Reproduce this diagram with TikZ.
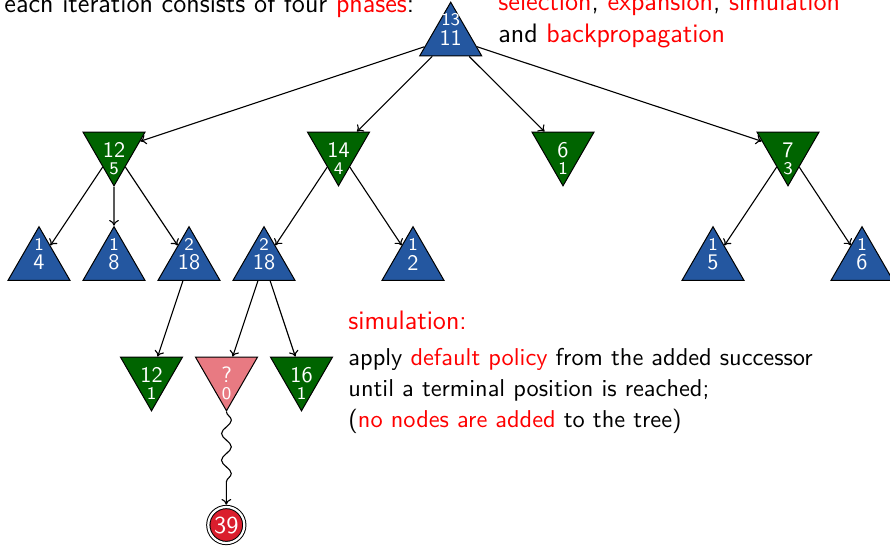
\documentclass[tikz,border=0pt]{standalone}
\usepackage{fontspec}
\usetikzlibrary{shapes.geometric,decorations.pathmorphing,arrows.meta}
\definecolor{tblue}{RGB}{36,87,160}
\definecolor{tgreen}{RGB}{0,100,0}
\definecolor{tpink}{RGB}{232,122,130}
\definecolor{tred}{RGB}{218,30,45}
\begin{document}
\begin{tikzpicture}[x=0.4494pt, y=-0.4494pt,
  tri/.style={regular polygon, regular polygon sides=3, minimum size=32.18pt, inner sep=0pt,
    draw=black, line width=0.45pt, text=white, font=\sffamily\fontsize{10}{12}\selectfont},
  upnode/.style={tri, fill=tblue},
  dnnode/.style={tri, shape border rotate=180, fill=tgreen},
  simnode/.style={tri, shape border rotate=180, fill=tpink},
  cnt/.style={text=white, inner sep=0pt, font=\sffamily\fontsize{8}{9.5}\selectfont},
  edge/.style={-{To[length=2.6pt,width=4.4pt]}, line width=0.5pt},
  body/.style={anchor=base west, inner sep=0pt, font=\sffamily\fontsize{10.95}{13.6}\selectfont},
  big/.style={anchor=base west, inner sep=0pt, font=\sffamily\fontsize{12}{14}\selectfont},
  term/.style={circle, draw=black, line width=0.45pt, double=white, double distance=1pt,
    fill=tred, minimum size=16.18pt, inner sep=0pt, text=white, font=\sffamily\fontsize{10.95}{13.6}\selectfont},
]
\useasboundingbox (0,0) rectangle (890,545);

% texts
\node[big] (t1) at (4,12.5) {each iteration consists of four \textcolor{red}{phases}:};
\node[big] (t2) at (498,10) {\textcolor{red}{selection}, \textcolor{red}{expansion}, \textcolor{red}{simulation}};
\node[big] (t3) at (498,42) {and \textcolor{red}{backpropagation}};
\node[big, text=red] (h) at (348,329) {simulation:};
\node[body] (l1) at (348,365) {apply \textcolor{red}{default policy} from the added successor};
\node[body] (l2) at (348,396) {until a terminal position is reached;};
\node[body] (l3) at (348,427) {(\textcolor{red}{no nodes are added} to the tree)};

% root
\node[upnode] (r) at (450.7,38) {11};
\node[cnt] (rc) at ([yshift=8.31pt]r.center) {13};

% level 1
\node[dnnode] (a) at (114,150) {12};
\node[cnt] (ac) at ([yshift=-8.31pt]a.center) {5};
\node[dnnode] (b) at (338.5,150) {14};
\node[cnt] (bc) at ([yshift=-8.31pt]b.center) {4};
\node[dnnode] (c) at (563,150) {6};
\node[cnt] (cc) at ([yshift=-8.31pt]c.center) {1};
\node[dnnode] (d) at (788,150) {7};
\node[cnt] (dc) at ([yshift=-8.31pt]d.center) {3};

% level 2
\node[upnode] (a1) at (39,262.5) {4};
\node[cnt] (a1c) at ([yshift=8.31pt]a1.center) {1};
\node[upnode] (a2) at (114,262.5) {8};
\node[cnt] (a2c) at ([yshift=8.31pt]a2.center) {1};
\node[upnode] (a3) at (189,262.5) {18};
\node[cnt] (a3c) at ([yshift=8.31pt]a3.center) {2};
\node[upnode] (b1) at (264,262.5) {18};
\node[cnt] (b1c) at ([yshift=8.31pt]b1.center) {2};
\node[upnode] (b2) at (413,262.5) {2};
\node[cnt] (b2c) at ([yshift=8.31pt]b2.center) {1};
\node[upnode] (d1) at (713,262.5) {5};
\node[cnt] (d1c) at ([yshift=8.31pt]d1.center) {1};
\node[upnode] (d2) at (862,262.5) {6};
\node[cnt] (d2c) at ([yshift=8.31pt]d2.center) {1};

% level 3
\node[dnnode] (e1) at (151.5,375) {12};
\node[cnt] (e1c) at ([yshift=-8.31pt]e1.center) {1};
\node[simnode] (e2) at (226.5,375) {?};
\node[cnt] (e2c) at ([yshift=-8.31pt]e2.center) {0};
\node[dnnode] (e3) at (301.5,375) {16};
\node[cnt] (e3c) at ([yshift=-8.31pt]e3.center) {1};

% terminal
\node[term] (z) at (226.3,525) {39};

% edges
\draw[edge] (r) -- (a);
\draw[edge] (r) -- (b);
\draw[edge] (r) -- (c);
\draw[edge] (r) -- (d);
\draw[edge] (a) -- (a1);
\draw[edge] (a) -- (a2);
\draw[edge] (a) -- (a3);
\draw[edge] (b) -- (b1);
\draw[edge] (b) -- (b2);
\draw[edge] (d) -- (d1);
\draw[edge] (d) -- (d2);
\draw[edge] (a3) -- (e1);
\draw[edge] (b1) -- (e2);
\draw[edge] (b1) -- (e3);
\draw[edge, decorate, decoration={snake, amplitude=2.2pt, segment length=12pt, post length=7pt}, shorten >=0.8pt] (e2.corner 1) -- (z.north);
\end{tikzpicture}
\end{document}
